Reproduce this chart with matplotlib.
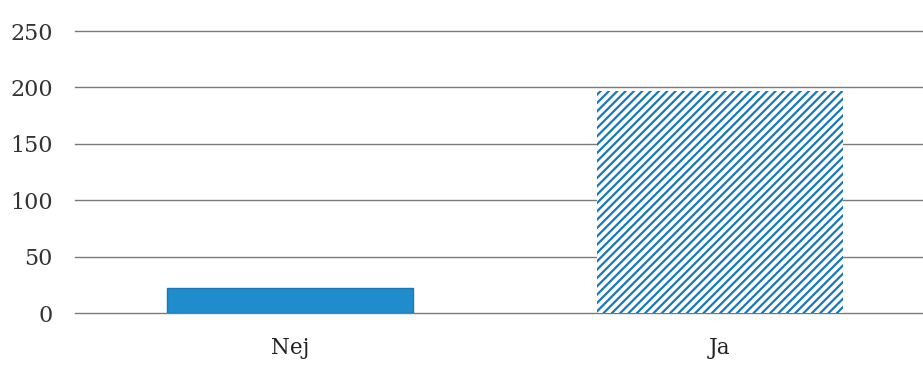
import matplotlib.pyplot as plt

# survey answers
categories = ['Nej', 'Ja']
counts = [22, 197]
y_ticks = [0, 50, 100, 150, 200, 250]

plt.rcParams['font.family'] = ['DejaVu Serif']
plt.rcParams['hatch.linewidth'] = 1.6

fig = plt.figure(figsize=(9.23, 3.67), dpi=100)
ax = fig.add_axes([0.0813, 0.147, 0.9187, 0.7685])

x = list(range(len(categories)))

# solid bar for "Nej", striped bar for "Ja"
ax.bar(x[0], counts[0], width=0.57, color='#1f8ccc', edgecolor='#1a78b4', linewidth=1, zorder=3)
ax.bar(x[1], counts[1], width=0.57, color='white', edgecolor='#1a78b8', hatch='////', linewidth=0, zorder=3)

ax.set_xlim(-0.5, 1.472)
ax.set_ylim(0, 250)
ax.set_yticks(y_ticks)
ax.set_yticklabels([str(v) for v in y_ticks], fontsize=16, color='#333333')
ax.set_xticks(x)
ax.set_xticklabels(categories, fontsize=15.5, color='#222222')

ax.grid(axis='y', color='#7a7a7a', linewidth=1.0, zorder=0)
# keep the baseline and top gridlines whole at the axes edges
for line in ax.get_ygridlines():
    line.set_clip_on(False)
ax.tick_params(axis='y', length=0, pad=16)
ax.tick_params(axis='x', length=0, pad=17)
for side in ['top', 'right', 'bottom', 'left']:
    ax.spines[side].set_visible(False)

fig.savefig('out.png', dpi=100)
